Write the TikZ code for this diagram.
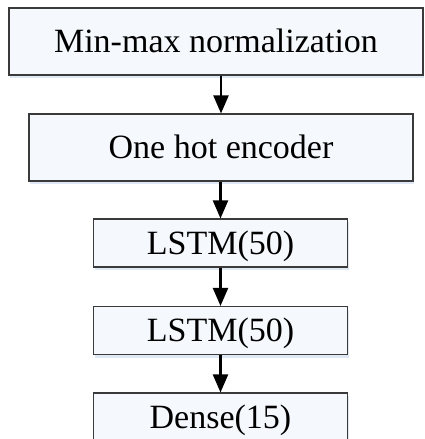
\documentclass[tikz,border=0pt]{standalone}
\usepackage{fontspec}
\setmainfont{Liberation Serif}
\usetikzlibrary{arrows.meta,shadows}
\definecolor{boxfill}{HTML}{F5F8FC}
\definecolor{boxline}{HTML}{3A3A3A}
\definecolor{shadowc}{HTML}{C9DAEE}
\tikzset{
  stagebox/.style={draw=boxline, line width=1.1pt, fill=boxfill, inner sep=0pt,
    font=\fontsize{34pt}{40pt}\selectfont, text height=22.5pt, text depth=0pt,
    drop shadow={shadow xshift=1pt, shadow yshift=-3pt, fill=shadowc, opacity=0.6}},
  flow/.style={line width=2.2pt, black, -{Triangle[length=18pt,width=15pt]}}
}
\begin{document}
\begin{tikzpicture}[x=1pt,y=-1pt]
\useasboundingbox (0,0) rectangle (424,439);
\clip (0,0) rectangle (424,439);
\node[stagebox, minimum width=414pt, minimum height=67pt] (norm) at (216,41.5) {Min-max normalization};
\node[stagebox, minimum width=384pt, minimum height=67pt] (onehot) at (221,147.5) {One hot encoder};
\node[stagebox, minimum width=254pt, minimum height=48pt] (lstma) at (220.5,243) {LSTM(50)};
\node[stagebox, minimum width=254pt, minimum height=48pt] (lstmb) at (220.5,330.5) {LSTM(50)};
\node[stagebox, minimum width=254pt, minimum height=48pt] (dense) at (220.5,417) {Dense(15)};
\draw[flow] (onehot.north |- norm.south) -- (onehot.north);
\draw[flow] (lstma.north |- onehot.south) -- (lstma.north);
\draw[flow] (lstma.south) -- (lstmb.north);
\draw[flow] (lstmb.south) -- (dense.north);
\end{tikzpicture}
\end{document}
